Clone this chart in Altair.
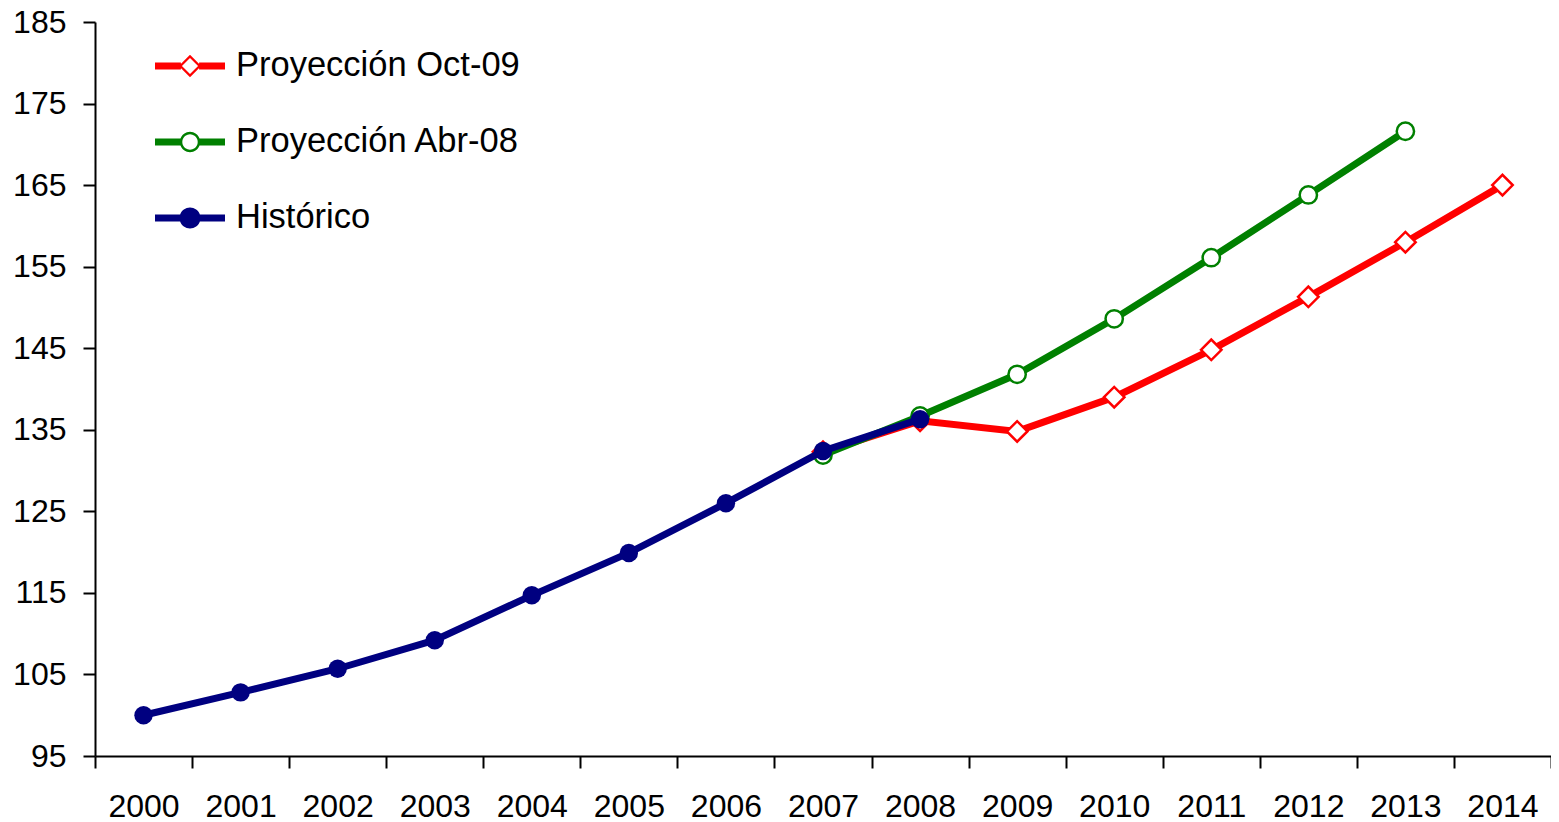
import math
import altair as alt
import pandas as pd

# ---- data ----
years_all = ["2000", "2001", "2002", "2003", "2004", "2005", "2006", "2007",
             "2008", "2009", "2010", "2011", "2012", "2013", "2014"]

hist_years = ["2000", "2001", "2002", "2003", "2004", "2005", "2006", "2007", "2008"]
hist_values = [100.0, 102.8, 105.7, 109.2, 114.7, 119.9, 126.0, 132.4, 136.3]

abr_years = ["2007", "2008", "2009", "2010", "2011", "2012", "2013"]
abr_values = [131.9, 136.7, 141.8, 148.6, 156.1, 163.8, 171.6]

oct_years = ["2007", "2008", "2009", "2010", "2011", "2012", "2013", "2014"]
oct_values = [132.3, 136.1, 134.8, 139.0, 144.8, 151.3, 158.0, 165.0]

series_names = ["Proyección Oct-09", "Proyección Abr-08", "Histórico"]
series_colors = ["#FF0000", "#008000", "#000080"]

y_ticks = [95, 105, 115, 125, 135, 145, 155, 165, 175, 185]

FONT = "Liberation Sans"

hist_df = pd.DataFrame({"year": hist_years, "value": hist_values})
abr_df = pd.DataFrame({"year": abr_years, "value": abr_values})
oct_df = pd.DataFrame({"year": oct_years, "value": oct_values})


# ---- legend symbols: line segment + marker, as custom unit paths ----
def fmt(v):
    return f"{v:.4f}"


def seg(h, gap):
    return (f"M-1,{fmt(-h)}H{fmt(-gap)}V{fmt(h)}H-1Z "
            f"M{fmt(gap)},{fmt(-h)}H1V{fmt(h)}H{fmt(gap)}Z ")


def poly_circle(r, n=40, reverse=False):
    pts = []
    for i in range(n):
        a = 2 * math.pi * i / n
        if reverse:
            a = -a
        pts.append((r * math.cos(a), r * math.sin(a)))
    return "M" + " L".join(f"{fmt(x)},{fmt(y)}" for x, y in pts) + "Z "


def diamond(r, reverse=False):
    if not reverse:
        return f"M0,{fmt(-r)}L{fmt(r)},0L0,{fmt(r)}L{fmt(-r)},0Z "
    return f"M0,{fmt(-r)}L{fmt(-r)},0L0,{fmt(r)}L{fmt(r)},0Z "


H = 0.1
path_oct = seg(H, 0.26) + diamond(0.32) + diamond(0.23, reverse=True)
path_abr = seg(H, 0.25) + poly_circle(0.29) + poly_circle(0.22, reverse=True)
path_hist = seg(H, 0.25) + poly_circle(0.30)
legend_paths = [path_oct, path_abr, path_hist]

# ---- shared encodings ----
x_enc = alt.X(
    "year:N",
    scale=alt.Scale(type="band", domain=years_all, paddingInner=0, paddingOuter=0),
    axis=alt.Axis(title=None, labelAngle=0, tickBand="extent", labelPadding=23,
                  tickSize=12),
)
y_enc = alt.Y(
    "value:Q",
    scale=alt.Scale(domain=[95, 185], nice=False, zero=False),
    axis=alt.Axis(title=None, values=y_ticks, labelPadding=17, tickSize=12, format="d"),
)

LW = 7


def line(df, color):
    return alt.Chart(df).mark_line(color=color, strokeWidth=LW).encode(x=x_enc, y=y_enc)


red_line = line(oct_df, series_colors[0])
red_pts = alt.Chart(oct_df).mark_point(
    shape="diamond", size=420, fill="white", fillOpacity=1, stroke=series_colors[0],
    strokeWidth=2.5, opacity=1,
).encode(x=x_enc, y=y_enc)

green_line = line(abr_df, series_colors[1])
green_pts = alt.Chart(abr_df).mark_point(
    shape="circle", size=300, fill="white", fillOpacity=1, stroke=series_colors[1],
    strokeWidth=2.5, opacity=1,
).encode(x=x_enc, y=y_enc)

blue_line = line(hist_df, series_colors[2])
blue_pts = alt.Chart(hist_df).mark_point(
    shape="circle", size=340, filled=True, fill=series_colors[2], strokeWidth=0, opacity=1,
).encode(x=x_enc, y=y_enc)

legend_def = alt.Legend(
    title=None, orient="none", legendX=60, legendY=9, symbolSize=4900,
    labelFont=FONT, labelFontSize=34.5, labelColor="black", labelOffset=11,
    rowPadding=24, padding=0, symbolStrokeWidth=0, labelLimit=800,
    symbolOpacity=1,
)
legend_df = pd.DataFrame({"serie": series_names})
legend_layer = alt.Chart(legend_df).transform_filter("false").mark_point(
    filled=True, size=4900, opacity=1, strokeWidth=0,
).encode(
    color=alt.Color("serie:N", scale=alt.Scale(domain=series_names, range=series_colors),
                    legend=legend_def),
    shape=alt.Shape("serie:N", scale=alt.Scale(domain=series_names, range=legend_paths),
                    legend=legend_def),
)

chart = alt.layer(
    red_line, red_pts, green_line, green_pts, blue_line, blue_pts, legend_layer
).properties(
    width=1456, height=734,
    padding={"left": 87, "top": 14, "right": 0, "bottom": 70},
    autosize=alt.AutoSizeParams(type="none"),
    background="white",
).configure_view(
    stroke=None
).configure_axis(
    grid=False, domainColor="black", domainWidth=2, tickColor="black", tickWidth=2,
    labelFont=FONT, labelFontSize=32, labelColor="black",
)

chart.save("out.html", embed_options={"renderer": "svg", "actions": False})
